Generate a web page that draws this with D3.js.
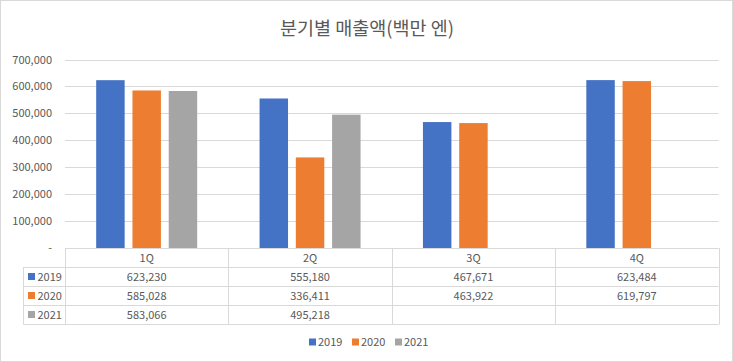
<!DOCTYPE html>
<html>
<head>
<meta charset="utf-8">
<script src="https://cdn.jsdelivr.net/npm/d3@7"></script>
<style>
	body { margin: 0; background: #fff; }
	svg text { font-family: "Noto Sans CJK KR", "Noto Sans", sans-serif; fill: #595959; }
</style>
</head>
<body>
<svg id="chart" width="733" height="362"></svg>
<script>
var quarters = ["1Q", "2Q", "3Q", "4Q"]
var seriesNames = ["2019", "2020", "2021"]
var sales2019 = [623230, 555180, 467671, 623484]
var sales2020 = [585028, 336411, 463922, 619797]
var sales2021 = [583066, 495218, null, null]
var yTicks = [0, 100000, 200000, 300000, 400000, 500000, 600000, 700000]
var seriesColors = ["#4472C4", "#ED7D31", "#A5A5A5"]

var g_width = 733
var g_height = 362
var g_plotLeft = 65
var g_plotRight = 718.5
var g_plotTop = 59.5
var g_plotBottom = 248
var g_tableLeft = 23.5
var g_rowH = 19
var g_gridColor = "#D9D9D9"

var svg = d3.select("#chart")
var allSeries = [sales2019, sales2020, sales2021]

// chart frame
svg.append("rect")
	.attr("x", 0.5).attr("y", 0.5)
	.attr("width", g_width - 1).attr("height", g_height - 1)
	.attr("fill", "#fff")
	.attr("stroke", g_gridColor)

svg.append("text")
	.attr("x", 367)
	.attr("y", 35)
	.attr("text-anchor", "middle")
	.style("font-size", "18.5px")
	.text("분기별 매출액(백만 엔)")

var x0 = d3.scaleBand()
	.domain(quarters)
	.range([g_plotLeft, g_plotRight])
	.padding(0)

var groupW = 101
var x1 = d3.scaleBand()
	.domain(seriesNames)
	.range([0, groupW])
	.paddingInner(0.215)

var y = d3.scaleLinear()
	.domain([0, 700000])
	.range([g_plotBottom, g_plotTop])

// gridlines
svg.append("g").selectAll("line")
	.data(yTicks.slice(1))
	.enter().append("line")
	.attr("x1", g_plotLeft).attr("x2", g_plotRight)
	.attr("y1", function(d) { return Math.round(y(d)) + 0.5 })
	.attr("y2", function(d) { return Math.round(y(d)) + 0.5 })
	.attr("stroke", g_gridColor)
	.attr("stroke-width", 1)

// y axis labels
var fmt = d3.format(",")
svg.append("g").selectAll("text")
	.data(yTicks)
	.enter().append("text")
	.attr("x", 52)
	.attr("y", function(d) { return y(d) + 4 })
	.attr("text-anchor", "end")
	.style("font-size", "11px")
	.text(function(d) { return d == 0 ? "-" : fmt(d) })

// bars
var groups = svg.append("g").selectAll("g")
	.data(quarters)
	.enter().append("g")
	.attr("transform", function(d) { return "translate(" + (x0(d) + (x0.bandwidth() - groupW) / 2) + ",0)" })

groups.selectAll("rect")
	.data(function(q, qi) {
		return seriesNames.map(function(s, si) { return { series: s, idx: si, value: allSeries[si][qi] } })
			.filter(function(d) { return d.value != null })
	})
	.enter().append("rect")
	.attr("x", function(d) { return x1(d.series) })
	.attr("width", x1.bandwidth())
	.attr("y", function(d) { return y(d.value) })
	.attr("height", function(d) { return g_plotBottom - y(d.value) })
	.attr("fill", function(d) { return seriesColors[d.idx] })

// data table
var table = svg.append("g")
var tableBottom = g_plotBottom + g_rowH * 4

// horizontal lines
table.append("line")
	.attr("x1", g_plotLeft).attr("x2", g_plotRight)
	.attr("y1", g_plotBottom + 0.5).attr("y2", g_plotBottom + 0.5)
	.attr("stroke", g_gridColor)
for (var r = 1; r <= 4; r++) {
	table.append("line")
		.attr("x1", g_tableLeft).attr("x2", g_plotRight)
		.attr("y1", g_plotBottom + r * g_rowH + 0.5).attr("y2", g_plotBottom + r * g_rowH + 0.5)
		.attr("stroke", g_gridColor)
}

// vertical lines
var colEdges = quarters.map(function(q) { return x0(q) }).concat([g_plotRight])
table.selectAll(".vline")
	.data(colEdges)
	.enter().append("line")
	.attr("class", "vline")
	.attr("x1", function(d) { return Math.round(d) + 0.5 })
	.attr("x2", function(d) { return Math.round(d) + 0.5 })
	.attr("y1", g_plotBottom)
	.attr("y2", tableBottom + 0.5)
	.attr("stroke", g_gridColor)
table.append("line")
	.attr("x1", g_tableLeft).attr("x2", g_tableLeft)
	.attr("y1", g_plotBottom + g_rowH).attr("y2", tableBottom + 0.5)
	.attr("stroke", g_gridColor)

// header row
table.selectAll(".qlabel")
	.data(quarters)
	.enter().append("text")
	.attr("class", "qlabel")
	.attr("x", function(d) { return x0(d) + x0.bandwidth() / 2 })
	.attr("y", g_plotBottom + g_rowH / 2 + 4)
	.attr("text-anchor", "middle")
	.style("font-size", "11px")
	.text(function(d) { return d })

// series rows
seriesNames.forEach(function(s, si) {
	var rowMid = g_plotBottom + g_rowH * (si + 1) + g_rowH / 2
	table.append("rect")
		.attr("x", 28).attr("y", rowMid - 3.5)
		.attr("width", 7).attr("height", 7)
		.attr("fill", seriesColors[si])
	table.append("text")
		.attr("x", 37.5)
		.attr("y", rowMid + 4)
		.style("font-size", "11px")
		.text(s)
	table.selectAll(".val" + si)
		.data(allSeries[si])
		.enter().append("text")
		.attr("x", function(d, i) { return x0(quarters[i]) + x0.bandwidth() / 2 })
		.attr("y", rowMid + 4)
		.attr("text-anchor", "middle")
		.style("font-size", "11px")
		.text(function(d) { return d == null ? "" : fmt(d) })
})

// legend
var legendX = [309, 352, 395]
var legend = svg.append("g").selectAll("g")
	.data(seriesNames)
	.enter().append("g")
	.attr("transform", function(d, i) { return "translate(" + legendX[i] + ",342)" })
legend.append("rect")
	.attr("x", 0).attr("y", -3.5)
	.attr("width", 7).attr("height", 7)
	.attr("fill", function(d, i) { return seriesColors[i] })
legend.append("text")
	.attr("x", 9)
	.attr("y", 4)
	.style("font-size", "11px")
	.text(function(d) { return d })
</script>
</body>
</html>
